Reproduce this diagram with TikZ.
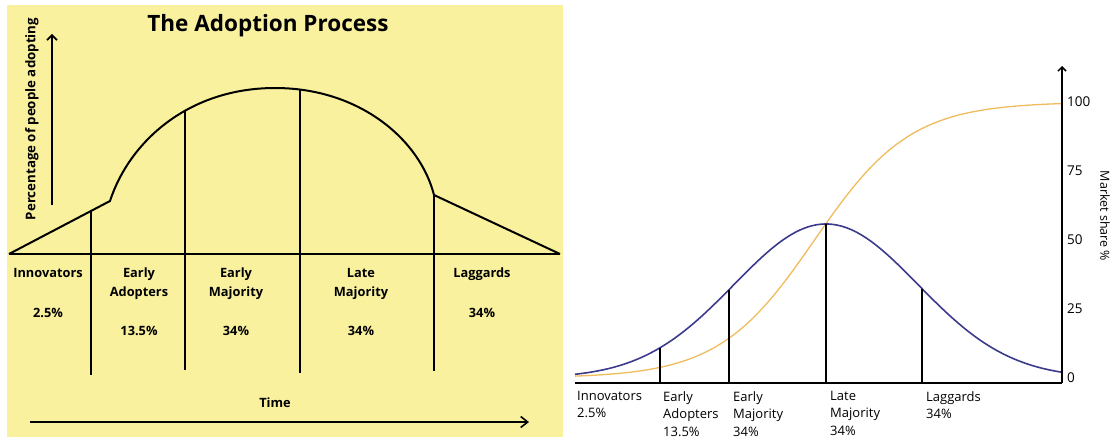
\documentclass[tikz,border=0pt]{standalone}
\usepackage{fontspec}
\setmainfont{Open Sans}
\usetikzlibrary{arrows.meta}
\definecolor{padyellow}{RGB}{249,241,158}
\definecolor{bellblue}{RGB}{60,58,140}
\definecolor{sorange}{RGB}{238,188,92}
\tikzstyle{heavy}=[line width=2pt]
\tikzstyle{grp}=[font=\bfseries\fontsize{12.8}{19}\selectfont,align=center,anchor=north,inner sep=0pt]
\tikzstyle{pct}=[font=\bfseries\fontsize{12.8}{19}\selectfont,inner sep=0pt]
\tikzstyle{mkt}=[font=\fontsize{13}{17.5}\selectfont,align=left,anchor=north west,inner sep=0pt]
\tikzstyle{ticklabel}=[font=\fontsize{13.5}{16}\selectfont,anchor=west,inner sep=0pt]

\begin{document}
\begin{tikzpicture}[x=1pt,y=-1pt,
  declare function={bell(\t)=378-154*exp(-(((\t-826)/92)^2)/2);
                    share(\t)=378-276/(1+exp(-(\t-814.5)/48));}]
\useasboundingbox (0,0) rectangle (1115,441);
\fill[padyellow] (7,5) rectangle (563,437);

% left panel: bell of adopters
\coordinate (s0) at (9,254);
\coordinate (k1) at (110,201);
\coordinate (top) at (275,88);
\coordinate (k2) at (434,195);
\coordinate (s1) at (560,254);
\coordinate (v1) at (91,211);
\coordinate (v2) at (185,111);
\coordinate (v3) at (300,89.5);
\coordinate (v4) at (434,195);
\coordinate (b1) at (91,375);
\coordinate (b2) at (185,370);
\coordinate (b3) at (300,373);
\coordinate (b4) at (434,371);
\coordinate (up0) at (52,205);
\coordinate (up1) at (52,34);
\coordinate (t0) at (30,422);
\coordinate (t1) at (529,422);

\node[font=\bfseries\fontsize{22.5}{26}\selectfont,inner sep=0pt] (title) at (268,26) {The Adoption Process};
\node[font=\bfseries\fontsize{13.3}{16}\selectfont,rotate=90,inner sep=0pt] (ylab) at (32,119) {Percentage of people adopting};
\node[font=\bfseries\fontsize{12.8}{16}\selectfont,inner sep=0pt] (time) at (275,403) {Time};

\node[grp] (g1) at (48,268) {Innovators};
\node[grp] (g2) at (139,268) {Early\\Adopters};
\node[grp] (g3) at (236,268) {Early\\Majority};
\node[grp] (g4) at (361,268) {Late\\Majority};
\node[grp] (g5) at (482,268) {Laggards};
\node[pct] (p1) at (48,313) {2.5\%};
\node[pct] (p2) at (139,331) {13.5\%};
\node[pct] (p3) at (236,331) {34\%};
\node[pct] (p4) at (361,331) {34\%};
\node[pct] (p5) at (482,313) {34\%};

% edges and paths
\draw[heavy,line join=round] (s0) -- (k1) .. controls (130,140) and (190,88) .. (top)
  .. controls (360,88) and (420,140) .. (k2) -- (s1);
\draw[heavy] (s0) -- (s1);
\foreach \i in {1,...,4}
  \draw[heavy] (v\i) -- (b\i);
\draw[line width=1.6pt,-{Straight Barb[length=5pt,width=10pt]}] (up0) -- (up1);
\draw[line width=1.6pt,-{Straight Barb[length=7pt,width=11pt]}] (t0) -- (t1);

% right panel: market share
\coordinate (x0) at (575,383);
\coordinate (o) at (1062,383);
\coordinate (ytop) at (1062,66);
\coordinate (e1) at (660,{bell(660)});
\coordinate (e2) at (729,{bell(729)});
\coordinate (e3) at (826,{bell(826)});
\coordinate (e4) at (922,{bell(922)});
\coordinate (f1) at (660,383);
\coordinate (f2) at (729,383);
\coordinate (f3) at (826,383);
\coordinate (f4) at (922,383);

\draw[sorange,line width=1.3pt] plot[domain=575:1062,samples=120] (\x,{share(\x)});
\draw[bellblue,line width=1.6pt] plot[domain=575:1062,samples=120] (\x,{bell(\x)});
\foreach \i in {1,...,4}
  \draw[line width=1.3pt] (e\i) -- (f\i);
\draw[line width=1.5pt] (x0) -- (o);
\draw[line width=1.5pt,-{Straight Barb[length=4pt,width=8pt]}] (o) -- (ytop);

\foreach \v in {0,25,50,75,100}
  \node[ticklabel] (n\v) at (1067,{378-2.76*\v}) {\v};
\node[font=\fontsize{12.5}{15}\selectfont,rotate=-90,inner sep=0pt] (mshare) at (1105,216) {Market share \%};

\node[mkt] (m1) at (577,391) {Innovators\\2.5\%};
\node[mkt] (m2) at (663,391) {Early\\Adopters\\13.5\%};
\node[mkt] (m3) at (733,391) {Early\\Majority\\34\%};
\node[mkt] (m4) at (830,391) {Late\\Majority\\34\%};
\node[mkt] (m5) at (926,391) {Laggards\\34\%};
\end{tikzpicture}
\end{document}
